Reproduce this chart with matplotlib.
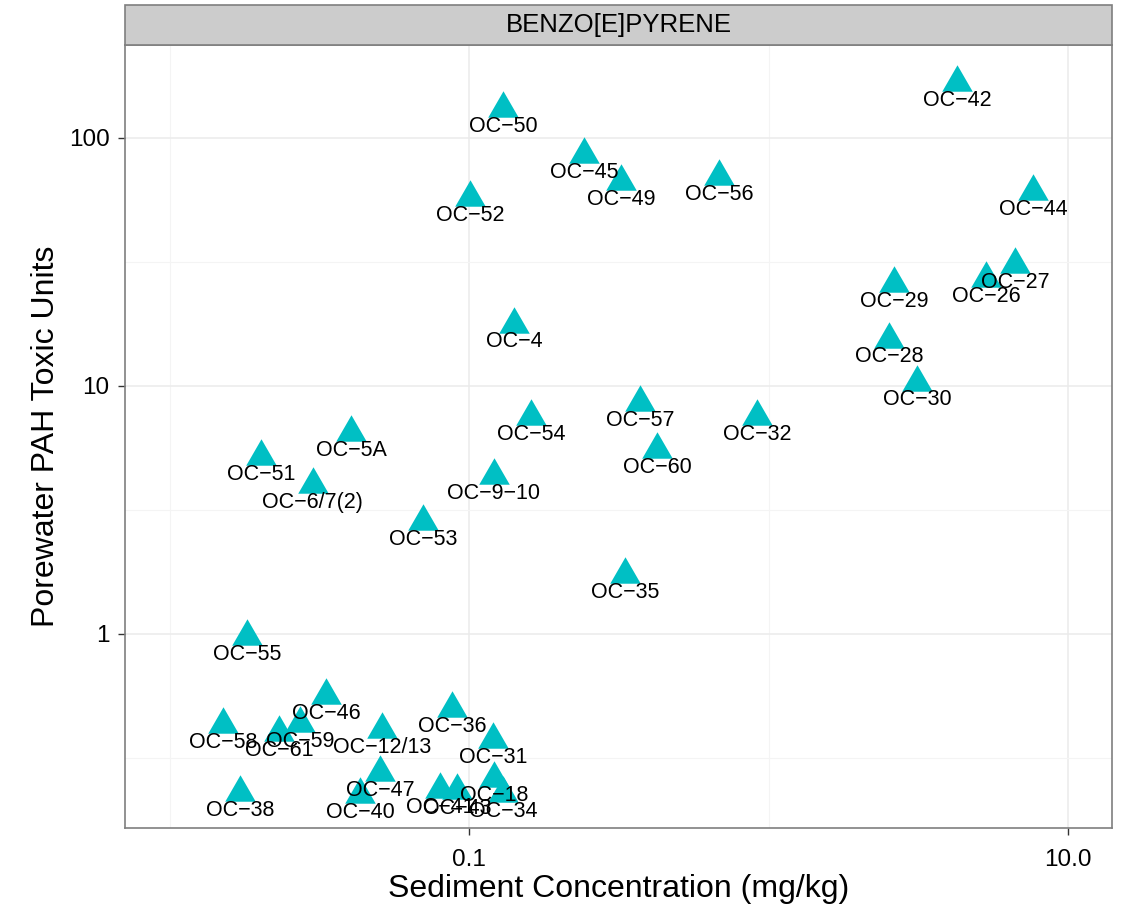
import numpy as np
import matplotlib
matplotlib.use('Agg')
import matplotlib.pyplot as plt
from matplotlib.patches import Rectangle
from matplotlib.ticker import FixedLocator, FixedFormatter, NullLocator

plt.rcParams['font.family'] = ['Liberation Sans', 'DejaVu Sans']

# sample id, sediment concentration (mg/kg), porewater PAH toxic units
sites = ['OC\u221242', 'OC\u221250', 'OC\u221245', 'OC\u221249', 'OC\u221256', 'OC\u221252',
         'OC\u221244', 'OC\u221229', 'OC\u221226', 'OC\u221227', 'OC\u221228', 'OC\u221230',
         'OC\u22124', 'OC\u221254', 'OC\u221257', 'OC\u221232', 'OC\u221260', 'OC\u22129\u221210',
         'OC\u221253', 'OC\u221235', 'OC\u22125A', 'OC\u221251', 'OC\u22126/7(2)', 'OC\u221255',
         'OC\u221246', 'OC\u221258', 'OC\u221261', 'OC\u221259', 'OC\u221212/13', 'OC\u221236',
         'OC\u221231', 'OC\u221247', 'OC\u221240', 'OC\u221238', 'OC\u221241', 'OC\u221243',
         'OC\u221218', 'OC\u221234']
sed_conc = [4.26, 0.130, 0.242, 0.322, 0.684, 0.1008,
            7.64, 2.62, 5.33, 6.65, 2.53, 3.13,
            0.141, 0.161, 0.372, 0.916, 0.425, 0.121,
            0.0702, 0.332, 0.0404, 0.0202, 0.0301, 0.01815,
            0.0333, 0.0151, 0.0232, 0.0273, 0.0512, 0.0877,
            0.120, 0.0504, 0.0432, 0.0172, 0.080, 0.0912,
            0.121, 0.130]
toxic_units = [174.6, 137.0, 89.5, 69.6, 72.9, 60.0,
               63.5, 27.0, 28.3, 32.2, 16.1, 10.8,
               18.5, 7.85, 8.95, 7.85, 5.78, 4.54,
               2.96, 1.81, 6.77, 5.42, 4.18, 1.02,
               0.589, 0.450, 0.418, 0.454, 0.430, 0.522,
               0.391, 0.288, 0.235, 0.239, 0.246, 0.244,
               0.273, 0.237]

panel_title = 'BENZO[E]PYRENE'
xticks = [0.1, 10.0]
xticklabels = ['0.1', '10.0']
yticks = [1, 10, 100]
yticklabels = ['1', '10', '100']

W, H = 1122, 913
fig = plt.figure(figsize=(W / 100, H / 100), dpi=100)
L, R, B, T = 125 / W, 1112 / W, 1 - 828 / H, 1 - 45 / H
ax = fig.add_axes([L, B, R - L, T - B])

ax.set_xscale('log')
ax.set_yscale('log')
ax.set_xlim(0.0071, 14.0)
ax.set_ylim(0.165, 237)

# grid like theme_bw (major + minor half-way in log space)
for gx in [0.1, 10.0]:
    ax.axvline(gx, color='#ebebeb', lw=1.1, zorder=0)
for gx in [0.01, 1.0]:
    ax.axvline(gx, color='#f4f4f4', lw=0.8, zorder=0)
for gy in [1, 10, 100]:
    ax.axhline(gy, color='#ebebeb', lw=1.1, zorder=0)
for gy in [10 ** -0.5, 10 ** 0.5, 10 ** 1.5]:
    ax.axhline(gy, color='#f4f4f4', lw=0.8, zorder=0)

# equilateral triangle marker centred on its bounding box
tri = [(-0.5, -0.433), (0.5, -0.433), (0.0, 0.433), (-0.5, -0.433)]
ax.plot(sed_conc, toxic_units, linestyle='none', marker=tri, markersize=22,
        color='#00BFC4', markeredgewidth=0, zorder=3)

for s, xv, yv in zip(sites, sed_conc, toxic_units):
    ax.annotate(s, (xv, yv), xytext=(0, -16), textcoords='offset points',
                ha='center', va='center', fontsize=15.5, color='black', zorder=4)

ax.xaxis.set_major_locator(FixedLocator(xticks))
ax.xaxis.set_major_formatter(FixedFormatter(xticklabels))
ax.xaxis.set_minor_locator(NullLocator())
ax.yaxis.set_major_locator(FixedLocator(yticks))
ax.yaxis.set_major_formatter(FixedFormatter(yticklabels))
ax.yaxis.set_minor_locator(NullLocator())
ax.tick_params(axis='both', which='major', length=5, width=1, color='#333333',
               labelsize=17.5, labelcolor='black', pad=6)
ax.tick_params(axis='x', pad=10)

for sp in ax.spines.values():
    sp.set_color('#7f7f7f')
    sp.set_linewidth(1.2)

ax.set_xlabel('Sediment Concentration (mg/kg)', fontsize=23, labelpad=2)
ax.set_ylabel('Porewater PAH Toxic Units', fontsize=23, labelpad=6)

# facet strip
sb = 1 - 45 / H
st = 1 - 5 / H
strip = Rectangle((L, sb), R - L, st - sb, transform=fig.transFigure,
                  facecolor='#cccccc', edgecolor='#7f7f7f', lw=1.2)
fig.patches.append(strip)
fig.text((L + R) / 2, (sb + st) / 2, panel_title, ha='center', va='center',
         fontsize=18.5, color='black')

plt.savefig('out.png', dpi=100)
